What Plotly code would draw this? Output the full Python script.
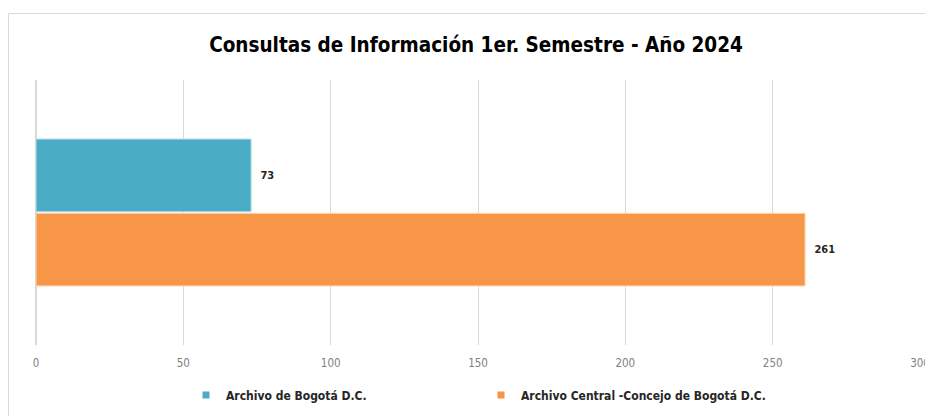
import plotly.graph_objects as go

categories = [""]
series_names = ["Archivo de Bogotá D.C.", "Archivo Central -Concejo de Bogotá D.C."]
values_bogota = [73]
values_concejo = [261]
tick_vals = [0, 50, 100, 150, 200, 250, 300]
colors = ["#4BACC6", "#F79646"]

FONT = "DejaVu Sans Condensed, Liberation Sans Narrow, Liberation Sans"

# page body has an 8px margin; work in image pixels and shift by OFF
OFF = 8
W, H = 933 - OFF, 416 - OFF
ml, mr, mt, mb = 36 - OFF, 13, 80 - OFF, 416 - 345
pw = W - ml - mr
ph = H - mt - mb

def px_x(p):
    return (p - OFF - ml) / pw

def px_y(p):
    return (H - mb - (p - OFF)) / ph

fig = go.Figure()
fig.add_trace(go.Bar(
    y=categories, x=values_concejo, name=series_names[1], orientation="h",
    marker=dict(color=colors[1], line=dict(color="#FFD9B8", width=1)),
    text=[f"\u00a0\u00a0<b>{v}</b>" for v in values_concejo], textposition="outside",
    textfont=dict(family=FONT, size=11, color="#262626"),
    showlegend=False, cliponaxis=False,
))
fig.add_trace(go.Bar(
    y=categories, x=values_bogota, name=series_names[0], orientation="h",
    marker=dict(color=colors[0], line=dict(color="#B7E0EB", width=1)),
    text=[f"\u00a0\u00a0<b>{v}</b>" for v in values_bogota], textposition="outside",
    textfont=dict(family=FONT, size=11, color="#262626"),
    showlegend=False, cliponaxis=False,
))
# legend entries with small square markers
for name, col in zip(series_names, colors):
    fig.add_trace(go.Scatter(
        x=[None], y=[None], mode="markers", name=f"<b>{name}</b>",
        marker=dict(symbol="square", size=7, color=col), showlegend=True,
    ))

fig.update_layout(
    width=W, height=H,
    margin=dict(l=ml, r=mr, t=mt, b=mb, autoexpand=False),
    paper_bgcolor="white", plot_bgcolor="white",
    barmode="group", bargap=0.44, bargroupgap=0.02,
    title=dict(text="<b>Consultas de Información 1er. Semestre - Año 2024</b>",
               x=px_x(476), xanchor="center", xref="paper",
               y=1 - (45 - OFF) / H, yanchor="middle",
               font=dict(family=FONT, size=20.5, color="#000000")),
    xaxis=dict(range=[0, 300], tickvals=tick_vals, showgrid=True,
               gridcolor="#D9D9D9", gridwidth=1, zeroline=True,
               zerolinecolor="#D9D9D9", showline=False, automargin=False,
               tickfont=dict(family=FONT, size=11.5, color="#808080"),
               ticklabelstandoff=9),
    yaxis=dict(showticklabels=False, showgrid=False, zeroline=False, showline=False,
               automargin=False),
    showlegend=True,
    legend=dict(orientation="h", x=px_x(186), xanchor="left", y=px_y(395), yanchor="middle",
                font=dict(family=FONT, size=12, color="#262626"),
                entrywidth=250, entrywidthmode="pixels", itemwidth=30),
    shapes=[
        dict(type="line", xref="paper", yref="paper", x0=px_x(8.5), x1=px_x(940),
             y0=px_y(13.5), y1=px_y(13.5), line=dict(color="#D9D9D9", width=1)),
        dict(type="line", xref="paper", yref="paper", x0=px_x(8.5), x1=px_x(8.5),
             y0=px_y(13.5), y1=px_y(420), line=dict(color="#D9D9D9", width=1)),
    ],
)

fig.write_html("out.html")
